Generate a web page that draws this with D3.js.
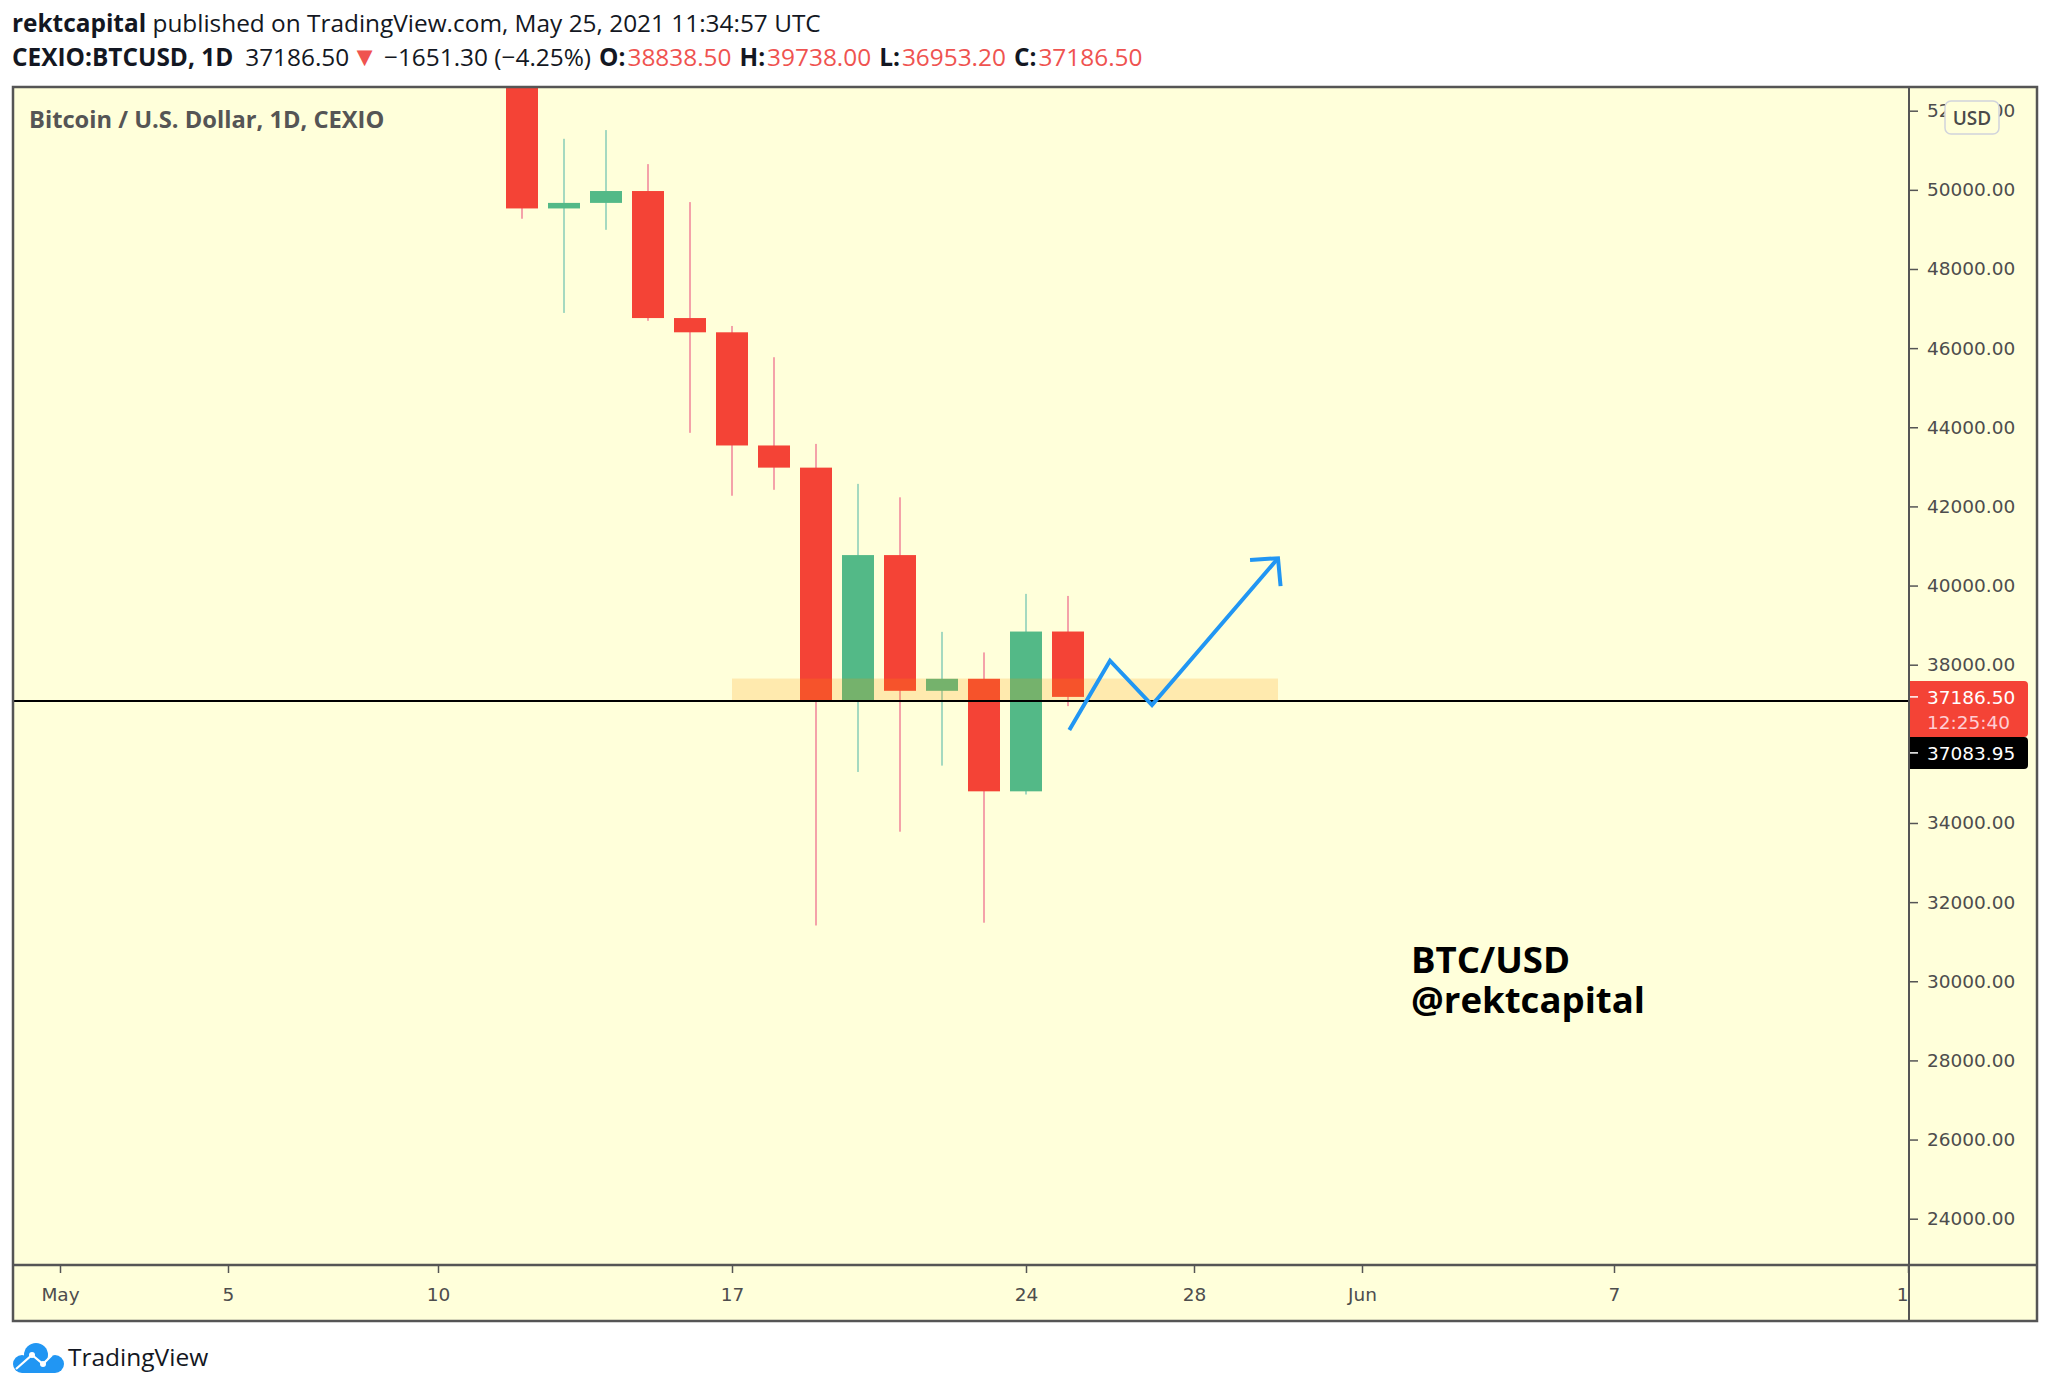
<!DOCTYPE html>
<html>
<head>
<meta charset="utf-8">
<script src="https://cdn.jsdelivr.net/npm/d3@7"></script>
<style>
  html, body { margin: 0; padding: 0; background: #ffffff; }
  svg { display: block; }
</style>
</head>
<body>
<svg id="chart" width="2050" height="1394"></svg>
<script>
// ---------------- DATA ----------------
const candleDates  = ["2021-05-12","2021-05-13","2021-05-14","2021-05-15","2021-05-16","2021-05-17","2021-05-18",
                      "2021-05-19","2021-05-20","2021-05-21","2021-05-22","2021-05-23","2021-05-24","2021-05-25"];
const candleOpen   = [56700, 49530, 49670, 49970, 46760, 46400, 43540, 42980, 37090, 40770, 37340, 37644, 34800, 38838.5];
const candleHigh   = [57950, 51290, 51510, 50650, 49690, 46560, 45770, 43580, 42570, 42230, 38830, 38310, 39790, 39738.0];
const candleLow    = [49270, 46890, 48990, 46690, 43860, 42270, 42420, 31410, 35290, 33780, 35450, 31480, 34720, 36953.2];
const candleClose  = [49530, 49670, 49970, 46760, 46400, 43540, 42980, 37090, 40770, 37340, 37644, 34800, 38837.8, 37186.5];

const priceTicks   = [52000, 50000, 48000, 46000, 44000, 42000, 40000, 38000, 34000, 32000, 30000, 28000, 26000, 24000];
const timeTickDates  = ["2021-05-01","2021-05-05","2021-05-10","2021-05-17","2021-05-24","2021-05-28","2021-06-01","2021-06-07","2021-06-14"];
const timeTickLabels = ["May","5","10","17","24","28","Jun","7","14"];

const zoneDates   = ["2021-05-17", "2021-05-30"];
const zonePrices  = [37083.95, 37650];
const hLinePrice  = 37083.95;

const pathTimes   = ["2021-05-25T00:45:00Z", "2021-05-26T00:00:00Z", "2021-05-27T00:00:00Z", "2021-05-30T00:00:00Z"];
const pathPrices  = [36350, 38100, 36980, 40690];

const lastPrice   = 37186.50;
const countdown   = "12:25:40";
const markPrice   = 37083.95;

const header1Bold = "rektcapital";
const header1Rest = " published on TradingView.com, May 25, 2021 11:34:57 UTC";
const symbolText  = "CEXIO:BTCUSD, 1D";
const changeText  = "\u22121651.30 (\u22124.25%)";
const titleText   = "Bitcoin / U.S. Dollar, 1D, CEXIO";
const watermark   = ["BTC/USD", "@rektcapital"];

// ---------------- LAYOUT ----------------
const FR = {left: 13, top: 87, right: 2037, bottom: 1321};
const PA = {x: 1909, y: 1265};              // price-axis x, time-axis y
const BG = "#FFFFDA";
const UP = "#53B987", DOWN = "#F44336";
const UP_WICK = "#A5D9C0", DOWN_WICK = "#F4A2A9";
const AXIS_TXT = "#4D4D4D";
const FRAME = "#555555";

const parseD = d3.utcParse("%Y-%m-%d");
const x = d3.scaleUtc().domain([parseD("2021-05-01"), parseD("2021-06-14")]).range([60, 1908]);
const y = d3.scaleLinear().domain([24000, 38000]).range([1218.7, 664.7]);

const svg = d3.select("#chart");
const defs = svg.append("defs");
defs.append("clipPath").attr("id", "plotClip").append("rect")
  .attr("x", FR.left + 1).attr("y", FR.top + 1)
  .attr("width", PA.x - FR.left - 2).attr("height", PA.y - FR.top - 2);
defs.append("clipPath").attr("id", "timeClip").append("rect")
  .attr("x", FR.left + 1).attr("y", PA.y)
  .attr("width", PA.x - FR.left - 2).attr("height", FR.bottom - PA.y);

// background
svg.append("rect").attr("x", FR.left).attr("y", FR.top)
  .attr("width", FR.right - FR.left).attr("height", FR.bottom - FR.top).attr("fill", BG);

// ---------------- header ----------------
const HF = 24.4;
const h1 = svg.append("text").attr("x", 12).attr("y", 32)
  .attr("font-family", "'Open Sans', sans-serif").attr("font-size", HF).attr("fill", "#131722");
h1.append("tspan").attr("font-weight", 700).text(header1Bold);
h1.append("tspan").text(header1Rest);

const h2 = svg.append("text").attr("x", 12).attr("y", 66)
  .attr("font-family", "'Open Sans', sans-serif").attr("font-size", HF).attr("fill", "#131722");
h2.append("tspan").attr("font-weight", 700).text(symbolText);
h2.append("tspan").attr("dx", 12).text(lastPrice.toFixed(2));
h2.append("tspan").attr("fill", "#EF5350").attr("font-size", 27).attr("dx", 2).text("\u25BC");
h2.append("tspan").attr("dx", 6).text(changeText);
const ohlc = [["O:", candleOpen], ["H:", candleHigh], ["L:", candleLow], ["C:", candleClose]];
ohlc.forEach(([lab, arr]) => {
  h2.append("tspan").attr("dx", 8).attr("font-weight", 700).text(lab);
  h2.append("tspan").attr("dx", 2).attr("fill", "#EF5350").text(arr[arr.length - 1].toFixed(2));
});

// ---------------- plot ----------------
const plot = svg.append("g").attr("clip-path", "url(#plotClip)");

const candles = candleDates.map((d, i) => ({
  date: parseD(d), o: candleOpen[i], h: candleHigh[i], l: candleLow[i], c: candleClose[i]
}));

plot.append("g").selectAll("rect").data(candles).join("rect")
  .attr("x", d => x(d.date) - 1).attr("width", 2)
  .attr("y", d => y(d.h)).attr("height", d => y(d.l) - y(d.h))
  .attr("fill", d => d.c >= d.o ? UP_WICK : DOWN_WICK);

plot.append("g").selectAll("rect").data(candles).join("rect")
  .attr("x", d => x(d.date) - 16).attr("width", 32)
  .attr("y", d => y(Math.max(d.o, d.c)))
  .attr("height", d => Math.max(2, Math.abs(y(d.o) - y(d.c))))
  .attr("fill", d => d.c >= d.o ? UP : DOWN);

// zone
plot.append("rect")
  .attr("x", x(parseD(zoneDates[0]))).attr("width", x(parseD(zoneDates[1])) - x(parseD(zoneDates[0])))
  .attr("y", y(zonePrices[1])).attr("height", y(zonePrices[0]) - y(zonePrices[1]))
  .attr("fill", "#FF9800").attr("fill-opacity", 0.2);

// horizontal line
plot.append("line").attr("x1", FR.left).attr("x2", PA.x)
  .attr("y1", y(hLinePrice)).attr("y2", y(hLinePrice))
  .attr("stroke", "#000").attr("stroke-width", 2);

// projection path
const pts = pathTimes.map((t, i) => [x(new Date(t)), y(pathPrices[i])]);
plot.append("path").attr("d", d3.line()(pts))
  .attr("fill", "none").attr("stroke", "#2196F3").attr("stroke-width", 4)
  .attr("stroke-linejoin", "miter").attr("stroke-linecap", "butt");
{
  const [x1, y1] = pts[pts.length - 2], [x2, y2] = pts[pts.length - 1];
  const ang = Math.atan2(y1 - y2, x1 - x2);
  const L = 28, spread = Math.PI / 4 * 1.02;
  const a1 = [x2 + L * Math.cos(ang - spread), y2 + L * Math.sin(ang - spread)];
  const a2 = [x2 + L * Math.cos(ang + spread), y2 + L * Math.sin(ang + spread)];
  plot.append("path").attr("d", d3.line()([a1, [x2, y2], a2]))
    .attr("fill", "none").attr("stroke", "#2196F3").attr("stroke-width", 4)
    .attr("stroke-linejoin", "miter");
}

// title
svg.append("text").attr("x", 29).attr("y", 128)
  .attr("font-family", "'Open Sans', sans-serif").attr("font-weight", 700)
  .attr("font-size", 23.7).attr("fill", "#555555").text(titleText);

// watermark
watermark.forEach((t, i) => {
  svg.append("text").attr("x", 1411).attr("y", 973 + i * 40)
    .attr("font-family", "'Open Sans', sans-serif").attr("font-weight", 700)
    .attr("font-size", 36.6).attr("fill", "#000").text(t);
});

// ---------------- axes ----------------
const yAxis = d3.axisRight(y).tickValues(priceTicks).tickFormat(d3.format(".2f"))
  .tickSize(9).tickPadding(9);
const gy = svg.append("g").attr("transform", `translate(${PA.x},0)`).call(yAxis);
gy.select(".domain").remove();
gy.selectAll(".tick line").attr("stroke", FRAME).attr("stroke-width", 1.5);
gy.selectAll(".tick text").attr("font-family", "'DejaVu Sans', sans-serif")
  .attr("font-size", 18.5).attr("fill", AXIS_TXT);

const xAxis = d3.axisBottom(x).tickValues(timeTickDates.map(parseD))
  .tickFormat((d, i) => timeTickLabels[i]).tickSize(8).tickPadding(15);
const gx = svg.append("g").attr("clip-path", "url(#timeClip)")
  .append("g").attr("transform", `translate(0,${PA.y})`).call(xAxis);
gx.select(".domain").remove();
gx.selectAll(".tick line").attr("stroke", FRAME).attr("stroke-width", 1.5);
gx.selectAll(".tick text").attr("font-family", "'DejaVu Sans', sans-serif")
  .attr("font-size", 18.5).attr("fill", AXIS_TXT);

// USD button
svg.append("rect").attr("x", 1945).attr("y", 101).attr("width", 54).attr("height", 33).attr("rx", 6)
  .attr("fill", BG).attr("stroke", "#D1D4DC").attr("stroke-width", 1.5);
svg.append("text").attr("x", 1972).attr("y", 124.5).attr("text-anchor", "middle")
  .attr("font-family", "'Open Sans', sans-serif").attr("font-weight", 600)
  .attr("font-size", 19).attr("fill", "#4A4A4A").text("USD");

// price labels
function labelBox(top, h) {
  const l = PA.x, r = 2028, rr = 4;
  return `M${l},${top}H${r - rr}Q${r},${top} ${r},${top + rr}V${top + h - rr}Q${r},${top + h} ${r - rr},${top + h}H${l}Z`;
}
const yLast = y(lastPrice);
svg.append("path").attr("d", labelBox(yLast - 16, 56)).attr("fill", DOWN);
svg.append("line").attr("x1", PA.x).attr("x2", PA.x + 9).attr("y1", yLast).attr("y2", yLast)
  .attr("stroke", "#fff").attr("stroke-width", 1.5);
svg.append("text").attr("x", 1927).attr("y", yLast + 7).attr("font-family", "'DejaVu Sans', sans-serif")
  .attr("font-size", 18.5).attr("fill", "#fff").text(lastPrice.toFixed(2));
svg.append("text").attr("x", 1927).attr("y", yLast + 32).attr("font-family", "'DejaVu Sans', sans-serif")
  .attr("font-size", 18.5).attr("fill", "#FFCDD2").text(countdown);

const markTop = yLast - 16 + 56;
svg.append("path").attr("d", labelBox(markTop, 32)).attr("fill", "#000");
svg.append("line").attr("x1", PA.x).attr("x2", PA.x + 9).attr("y1", markTop + 16).attr("y2", markTop + 16)
  .attr("stroke", "#fff").attr("stroke-width", 1.5);
svg.append("text").attr("x", 1927).attr("y", markTop + 23).attr("font-family", "'DejaVu Sans', sans-serif")
  .attr("font-size", 18.5).attr("fill", "#fff").text(markPrice.toFixed(2));

// frame lines
svg.append("rect").attr("x", FR.left).attr("y", FR.top)
  .attr("width", FR.right - FR.left).attr("height", FR.bottom - FR.top)
  .attr("fill", "none").attr("stroke", FRAME).attr("stroke-width", 2.5);
svg.append("line").attr("x1", PA.x).attr("x2", PA.x).attr("y1", FR.top).attr("y2", FR.bottom)
  .attr("stroke", FRAME).attr("stroke-width", 2);
svg.append("line").attr("x1", FR.left).attr("x2", FR.right).attr("y1", PA.y).attr("y2", PA.y)
  .attr("stroke", FRAME).attr("stroke-width", 2.5);

// ---------------- TradingView logo ----------------
const logo = svg.append("g");
logo.append("circle").attr("cx", 36).attr("cy", 1355).attr("r", 12).attr("fill", "#2196F3");
logo.append("circle").attr("cx", 22).attr("cy", 1364).attr("r", 9).attr("fill", "#2196F3");
logo.append("circle").attr("cx", 55).attr("cy", 1364).attr("r", 9).attr("fill", "#2196F3");
logo.append("rect").attr("x", 22).attr("y", 1360).attr("width", 33).attr("height", 13).attr("fill", "#2196F3");
logo.append("path").attr("d", d3.line()([[16, 1369], [32, 1355], [43, 1364], [52, 1355]]))
  .attr("fill", "none").attr("stroke", "#fff").attr("stroke-width", 2.2);
[[32, 1355], [43, 1364]].forEach(p => logo.append("circle").attr("cx", p[0]).attr("cy", p[1]).attr("r", 3).attr("fill", "#fff"));
svg.append("text").attr("x", 68).attr("y", 1366)
  .attr("font-family", "'Open Sans', sans-serif").attr("font-size", 24.5).attr("fill", "#131722").text("TradingView");
</script>
</body>
</html>
